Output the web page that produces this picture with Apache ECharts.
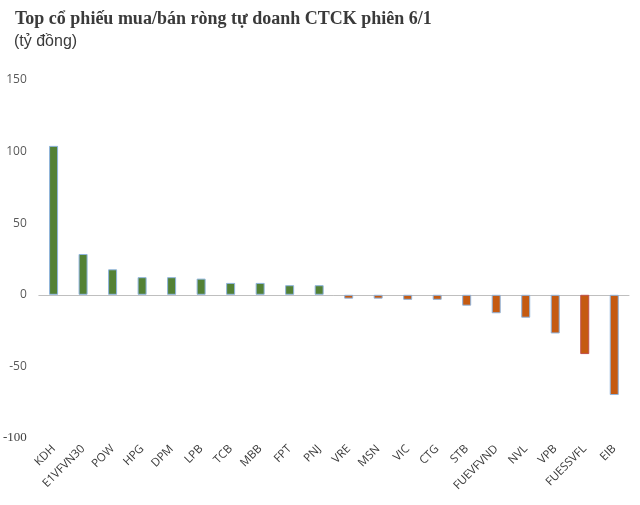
<!DOCTYPE html>
<html><head><meta charset="utf-8">
<script src="https://cdn.jsdelivr.net/npm/echarts@6/dist/echarts.min.js"></script>
<style>html,body{margin:0;padding:0;background:#fff}#c{width:640px;height:505px}</style>
</head><body><div id="c"></div>
<script>
const categories = ['KDH','E1VFVN30','POW','HPG','DPM','LPB','TCB','MBB','FPT','PNJ','VRE','MSN','VIC','CTG','STB','FUEVFVND','NVL','VPB','FUESSVFL','EIB'];
const values = [104, 28.5, 17.8, 12.3, 12.3, 11.3, 8.3, 8.3, 6.7, 6.7, -2.7, -2.7, -3.5, -3.5, -7.6, -12.9, -16, -27, -41.4, -70];
const yTicks = [-100, -50, 0, 50, 100, 150];
const titleText = 'Top cổ phiếu mua/bán ròng tự doanh CTCK phiên 6/1';
const subText = '(tỷ đồng)';

const chart = echarts.init(document.getElementById('c'), null, {renderer:'canvas'});
chart.setOption({
  animation: false,
  title: [
    {text: titleText, left: 10, top: 5, textStyle: {fontFamily: 'Liberation Serif', fontWeight: 'bold', fontSize: 18, color: '#3a3a3a'}},
    {text: subText, left: 9, top: 29, textStyle: {fontFamily: 'Liberation Sans Narrow, Liberation Sans', fontWeight: 'normal', fontSize: 16, color: '#3a3a3a'}}
  ],
  grid: {left: 37, right: 11, top: 80, bottom: 67, containLabel: false},
  xAxis: [
    {type: 'category', data: categories, position: 'bottom',
     axisLine: {show: false, onZero: false}, axisTick: {show: false},
     axisLabel: {rotate: 45, interval: 0, margin: 9, fontFamily: 'Open Sans', fontSize: 11.5, color: '#3a3a3a'}},
    {type: 'category', data: categories, position: 'top',
     axisLine: {show: true, onZero: true, lineStyle: {color: '#bfbfbf', width: 1}},
     axisTick: {show: false}, axisLabel: {show: false}}
  ],
  yAxis: {type: 'value', min: yTicks[0], max: yTicks[yTicks.length-1], interval: 50,
    splitLine: {show: false}, axisLine: {show: false}, axisTick: {show: false},
    axisLabel: {margin: 12, fontFamily: 'Open Sans', fontSize: 12, color: '#595959',
      formatter: function(v){ return v === -100 ? '{s|-100}' : String(v); },
      rich: {s: {fontFamily: 'Liberation Serif', fontSize: 13, color: '#404040'}}}
  },
  series: [{
    type: 'bar', xAxisIndex: 0, barWidth: 9,
    data: values.map(function(v, i){
      return {value: v, itemStyle: {
        color: v >= 0 ? '#538135' : '#c55a11',
        borderColor: categories[i] === 'FUESSVFL' ? '#c0504d' : '#8fb4de',
        borderWidth: 1}};
    })
  }]
});
</script></body></html>
